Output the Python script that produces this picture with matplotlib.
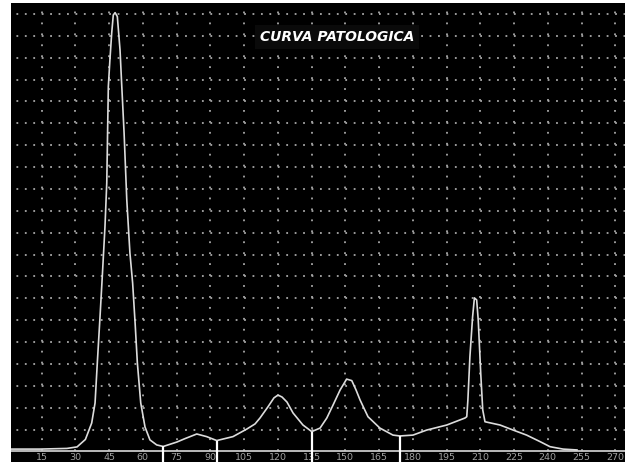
"""Densitogram of a pathological serum protein electrophoresis curve."""

import matplotlib

matplotlib.use("Agg")
import matplotlib.pyplot as plt
import numpy as np

# curve (x position, relative density)
CURVE_X = [1.4, 14.3, 26.3, 30.8, 34.5, 37.3, 38.8, 39.8, 41.0, 42.0, 43.2, 44.0, 44.7,
           45.4, 46.2, 46.9, 47.7, 48.7, 49.9, 50.6, 51.7, 52.9, 54.3, 55.5, 56.6, 57.6,
           59.1, 61.0, 63.2, 66.2, 69.1, 75.1, 78.8, 84.0, 88.4, 92.9, 100.1, 106.3,
           109.9, 112.1, 115.7, 118.3, 120.1, 121.9, 124.1, 126.8, 131.2, 135.1, 138.8,
           141.8, 144.6, 147.7, 150.6, 152.9, 154.8, 156.6, 160.1, 165.4, 171.2, 174.3,
           180.1, 186.2, 195.1, 203.2, 204.0, 204.5, 205.4, 206.6, 207.4, 208.4, 209.1,
           210.2, 211.1, 212.1, 218.8, 224.6, 230.6, 236.6, 241.0, 246.8, 253.0]
CURVE_Y = [0.11, 0.11, 0.14, 0.21, 0.55, 1.30, 2.22, 4.05, 6.15, 7.98, 10.26, 12.27, 16.68,
           17.90, 19.13, 19.95, 20.06, 19.88, 18.35, 16.85, 14.56, 11.50, 9.07, 7.70, 5.87,
           4.05, 2.22, 1.12, 0.53, 0.30, 0.23, 0.43, 0.59, 0.80, 0.68, 0.50, 0.68, 1.03,
           1.26, 1.53, 2.05, 2.45, 2.58, 2.49, 2.26, 1.76, 1.21, 0.91, 1.07, 1.53, 2.13,
           2.81, 3.31, 3.24, 2.81, 2.35, 1.59, 1.07, 0.75, 0.71, 0.75, 0.98, 1.21, 1.53,
           1.59, 2.35, 4.33, 6.16, 7.02, 6.93, 6.01, 3.59, 1.90, 1.36, 1.21, 0.98, 0.75,
           0.45, 0.22, 0.11, 0.07]
# fraction separators
SPLITS = [69.1, 92.9, 135.1, 174.3]
TICKS = [15, 30, 45, 60, 75, 90, 105, 120, 135, 150, 165, 180, 195, 210, 225, 240, 255, 270]
ROWS = list(range(1, 21))
TITLE = "CURVA PATOLOGICA"

X_LIM = (1.44, 274.33)
Y_LIM = (-0.48, 20.5)
DOT = "#a8a8a8"


def main() -> None:
    fig = plt.figure(figsize=(6.25, 4.62), dpi=100, facecolor="white")
    ax = fig.add_axes([11 / 625, 0, 614 / 625, 459 / 462])
    ax.set_facecolor("black")
    for spine in ax.spines.values():
        spine.set_visible(False)
    ax.set_xticks([])
    ax.set_yticks([])
    ax.set_xlim(*X_LIM)
    ax.set_ylim(*Y_LIM)

    # dotted grid
    ax.hlines(ROWS, 0, 280, colors=DOT, linewidth=1.3, linestyles=(0, (1, 3.67)), zorder=1)
    ax.vlines(TICKS, 0, 21, colors=DOT, linewidth=1.3, linestyles=(0, (1, 5.06)), zorder=1)

    # baseline
    ax.axhline(0, color="#c8c8c8", linewidth=1.3, zorder=2)
    for tick in TICKS:
        ax.text(tick, -0.07, str(tick), color="#a0a0a0", fontsize=6.8,
                ha="center", va="top", zorder=3)

    ax.plot(CURVE_X, CURVE_Y, color="#dcdcdc", linewidth=1.2, zorder=4)
    tops = np.interp(SPLITS, CURVE_X, CURVE_Y)
    ax.vlines(SPLITS, Y_LIM[0], tops, colors="white", linewidth=1.6, zorder=5)

    ax.text(146.3, 18.95, TITLE, color="white", fontsize=10, fontweight="bold",
            fontstyle="italic", ha="center", va="center", zorder=6,
            bbox={"boxstyle": "square,pad=0.35", "facecolor": "#0a0a0a", "edgecolor": "none"})

    fig.savefig("out.png", dpi=100, facecolor="white")
    plt.close(fig)


if __name__ == "__main__":
    main()
